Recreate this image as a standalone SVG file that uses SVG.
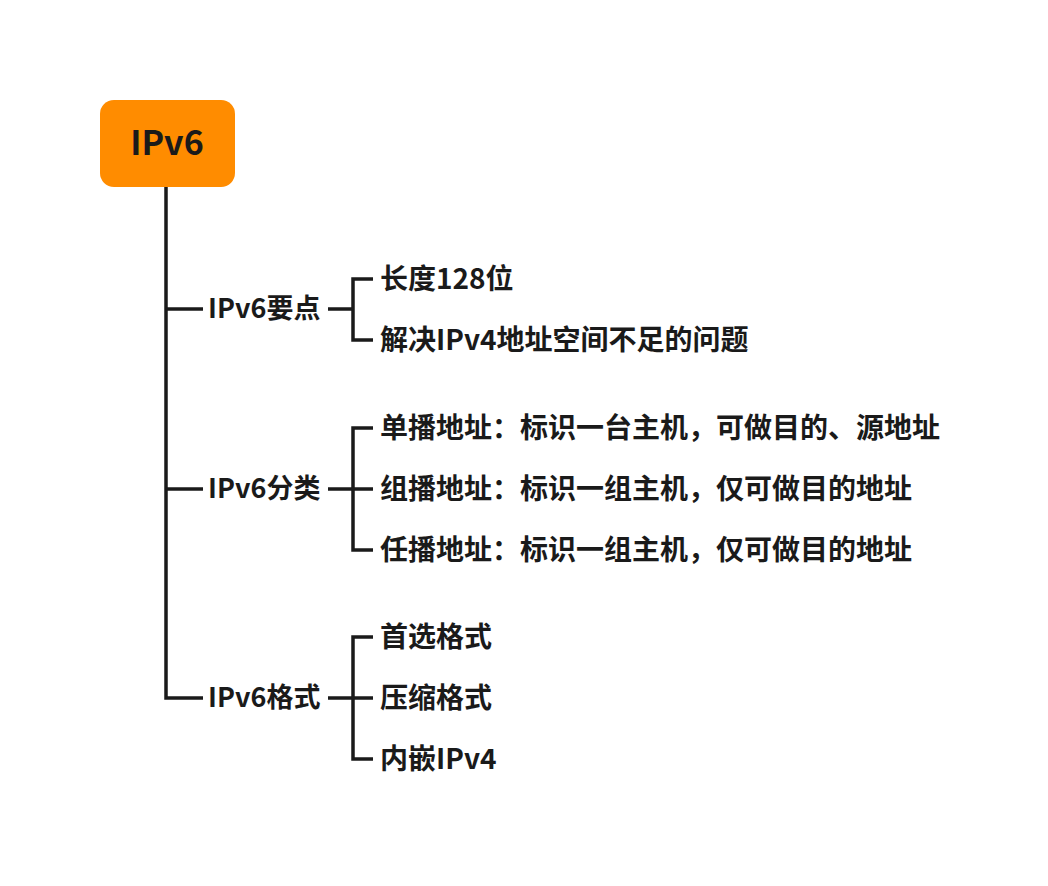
<svg xmlns="http://www.w3.org/2000/svg" width="1048" height="886" viewBox="0 0 1048 886">
<style>
.t{font-family:"Noto Sans CJK SC","Noto Sans",sans-serif;font-weight:bold;font-size:27px;fill:#1a1a1a}
.s{font-family:"Noto Sans CJK SC","Noto Sans",sans-serif;font-weight:bold;font-size:28px;fill:#1a1a1a}
.r{font-family:"Noto Sans CJK SC","Noto Sans",sans-serif;font-weight:bold;font-size:34px;fill:#1a1a1a}
.c{fill:none;stroke:#1a1a1a;stroke-width:3.5}
</style>
<rect width="1048" height="886" fill="#ffffff"/>
<g id="connectors">
<path class="c" d="M166 187 V698 H203"/>
<path class="c" d="M166 309 H203"/>
<path class="c" d="M166 489 H203"/>
<path class="c" d="M328 309 H353 M373 279 H353 V340 H373"/>
<path class="c" d="M328 489 H373 M373 428 H353 V550 H373"/>
<path class="c" d="M328 698 H373 M373 637 H353 V759 H373"/>
</g>
<g id="root">
<rect x="100" y="100" width="135" height="87" rx="14" fill="#ff8c00"/>
<text class="r" x="167" y="155" text-anchor="middle">IPv6</text>
</g>
<g id="n1"><text class="t" x="208" y="318">IPv6要点</text></g>
<g id="n1a"><text class="s" x="380" y="289">长度128位</text></g>
<g id="n1b"><text class="s" x="380" y="350">解决IPv4地址空间不足的问题</text></g>
<g id="n2"><text class="t" x="208" y="498">IPv6分类</text></g>
<g id="n2a"><text class="s" x="380" y="438">单播地址：标识一台主机，可做目的、源地址</text></g>
<g id="n2b"><text class="s" x="380" y="499">组播地址：标识一组主机，仅可做目的地址</text></g>
<g id="n2c"><text class="s" x="380" y="560">任播地址：标识一组主机，仅可做目的地址</text></g>
<g id="n3"><text class="t" x="208" y="707">IPv6格式</text></g>
<g id="n3a"><text class="s" x="380" y="647">首选格式</text></g>
<g id="n3b"><text class="s" x="380" y="708">压缩格式</text></g>
<g id="n3c"><text class="s" x="380" y="769">内嵌IPv4</text></g>
</svg>
